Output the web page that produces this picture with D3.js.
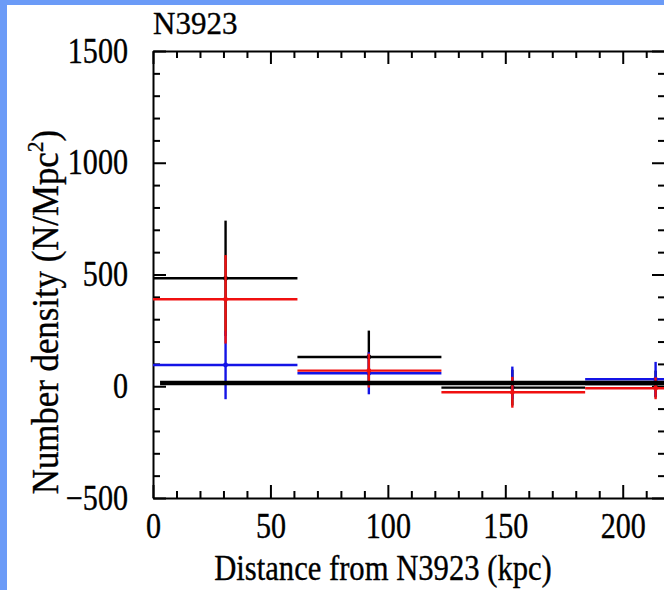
<!DOCTYPE html>
<html>
<head>
<meta charset="utf-8">
<script src="https://cdn.jsdelivr.net/npm/d3@7"></script>
<style>
  html, body { margin: 0; padding: 0; background: #fff; }
  svg { display: block; }
  text { font-family: "Liberation Serif", "Times New Roman", Times, serif; fill: #000; stroke: #000; stroke-width: 0.35; }
</style>
</head>
<body>
<svg id="chart" width="664" height="590"></svg>
<script>
// bins in distance (kpc)
const binLow = [0, 61.5, 122.8, 184];
const binHigh = [61.5, 122.8, 184, 245.5];
const binCenter = [30.9, 91.9, 153, 214];

// number density per series (N/Mpc^2) and their errors
const blackValues = [483, 131, -6, 10];
const blackErrors = [258, 118, 80, 60];
const blueValues = [95, 58, 15, 31];
const blueErrors = [153, 94, 73, 78];
const redValues = [389, 70, -27, -9];
const redErrors = [198, 76, 69, 49];

// background level line
const bgLevel = 15;
const bgRange = [3, 246];

const xDomain = [0, 218];
const yDomain = [-500, 1500];
const xMajor = [0, 50, 100, 150, 200];
const yMajor = [-500, 0, 500, 1000, 1500];

const svg = d3.select('#chart');

// light blue frame of the slide
svg.append('rect').attr('x', 0).attr('y', 0).attr('width', 664).attr('height', 5).attr('fill', '#6b9bf7');
svg.append('rect').attr('x', 0).attr('y', 0).attr('width', 7).attr('height', 590).attr('fill', '#6b9bf7');

const plotLeft = 153, plotTop = 51, plotW = 512, plotH = 447;
const x = d3.scaleLinear().domain(xDomain).range([plotLeft, plotLeft + plotW]);
const y = d3.scaleLinear().domain(yDomain).range([plotTop + plotH, plotTop]);

const xMinor = d3.range(0, xDomain[1] + 0.1, 10).filter(v => v % 50 !== 0);
const yMinor = d3.range(-500, 1501, 100).filter(v => v % 500 !== 0);

// the original lettering is a little narrow
function condense(sel, k = 0.86) {
  sel.each(function () {
    const len = this.getComputedTextLength();
    d3.select(this).attr('textLength', len * k).attr('lengthAdjust', 'spacingAndGlyphs');
  });
}

function styleAxis(g) {
  g.attr('font-family', null);
  g.selectAll('path.domain').attr('stroke-width', 2);
  g.selectAll('.tick line').attr('stroke-width', 2);
}

// bottom axis
svg.append('g').attr('transform', `translate(0,${plotTop + plotH})`)
  .call(d3.axisBottom(x).tickValues(xMajor).tickSize(-13).tickSizeOuter(0).tickPadding(15).tickFormat(d3.format('d')))
  .call(styleAxis)
  .call(g => g.selectAll('text').attr('font-size', 35).call(condense));
svg.append('g').attr('transform', `translate(0,${plotTop + plotH})`)
  .call(d3.axisBottom(x).tickValues(xMinor).tickSize(-7).tickSizeOuter(0).tickFormat(''))
  .call(styleAxis).call(g => g.select('.domain').remove());

// top axis
svg.append('g').attr('transform', `translate(0,${plotTop})`)
  .call(d3.axisTop(x).tickValues(xMajor).tickSize(-13).tickSizeOuter(0).tickFormat(''))
  .call(styleAxis);
svg.append('g').attr('transform', `translate(0,${plotTop})`)
  .call(d3.axisTop(x).tickValues(xMinor).tickSize(-7).tickSizeOuter(0).tickFormat(''))
  .call(styleAxis).call(g => g.select('.domain').remove());

// left axis
svg.append('g').attr('transform', `translate(${plotLeft},0)`)
  .call(d3.axisLeft(y).tickValues(yMajor).tickSize(-13).tickSizeOuter(0).tickPadding(25)
    .tickFormat(d => d < 0 ? '\u2212' + Math.abs(d) : d))
  .call(styleAxis)
  .call(g => g.selectAll('text').attr('font-size', 35).call(condense));
svg.append('g').attr('transform', `translate(${plotLeft},0)`)
  .call(d3.axisLeft(y).tickValues(yMinor).tickSize(-7).tickSizeOuter(0).tickFormat(''))
  .call(styleAxis).call(g => g.select('.domain').remove());

// right axis
svg.append('g').attr('transform', `translate(${plotLeft + plotW},0)`)
  .call(d3.axisRight(y).tickValues(yMajor).tickSize(-13).tickSizeOuter(0).tickFormat(''))
  .call(styleAxis);
svg.append('g').attr('transform', `translate(${plotLeft + plotW},0)`)
  .call(d3.axisRight(y).tickValues(yMinor).tickSize(-7).tickSizeOuter(0).tickFormat(''))
  .call(styleAxis).call(g => g.select('.domain').remove());

// series
const series = [
  { values: blackValues, errors: blackErrors, color: '#000000' },
  { values: blueValues, errors: blueErrors, color: '#1414e6' },
  { values: redValues, errors: redErrors, color: '#f01010' }
];

const plot = svg.append('g');
series.forEach(s => {
  const g = plot.append('g').attr('stroke', s.color).attr('stroke-width', 2.4);
  g.selectAll('line.h').data(s.values).join('line').attr('class', 'h')
    .attr('x1', (d, i) => x(binLow[i])).attr('x2', (d, i) => x(binHigh[i]))
    .attr('y1', d => y(d)).attr('y2', d => y(d));
  g.selectAll('line.v').data(s.values).join('line').attr('class', 'v')
    .attr('x1', (d, i) => x(binCenter[i])).attr('x2', (d, i) => x(binCenter[i]))
    .attr('y1', (d, i) => y(d - s.errors[i])).attr('y2', (d, i) => y(d + s.errors[i]));
  g.selectAll('circle').data(s.values).join('circle')
    .attr('cx', (d, i) => x(binCenter[i])).attr('cy', d => y(d)).attr('r', 2.4)
    .attr('fill', s.color).attr('stroke', 'none');
});

// background level
plot.append('line')
  .attr('x1', x(bgRange[0])).attr('x2', x(bgRange[1]))
  .attr('y1', y(bgLevel)).attr('y2', y(bgLevel))
  .attr('stroke', '#000').attr('stroke-width', 4.5);

// titles
svg.append('text').attr('x', plotLeft).attr('y', 34).attr('font-size', 31).text('N3923');

svg.append('text').attr('x', 383).attr('y', 580).attr('font-size', 35).attr('text-anchor', 'middle')
  .text('Distance from N3923 (kpc)').call(condense, 0.875);

const yl = svg.append('text')
  .attr('transform', 'translate(58,312) rotate(-90)')
  .attr('font-size', 37).attr('text-anchor', 'middle');
yl.append('tspan').text('Number density (N/Mpc');
yl.append('tspan').attr('font-size', 23).attr('dy', -15).text('2');
yl.append('tspan').attr('dy', 15).text(')');
condense(yl, 0.94);
</script>
</body>
</html>
